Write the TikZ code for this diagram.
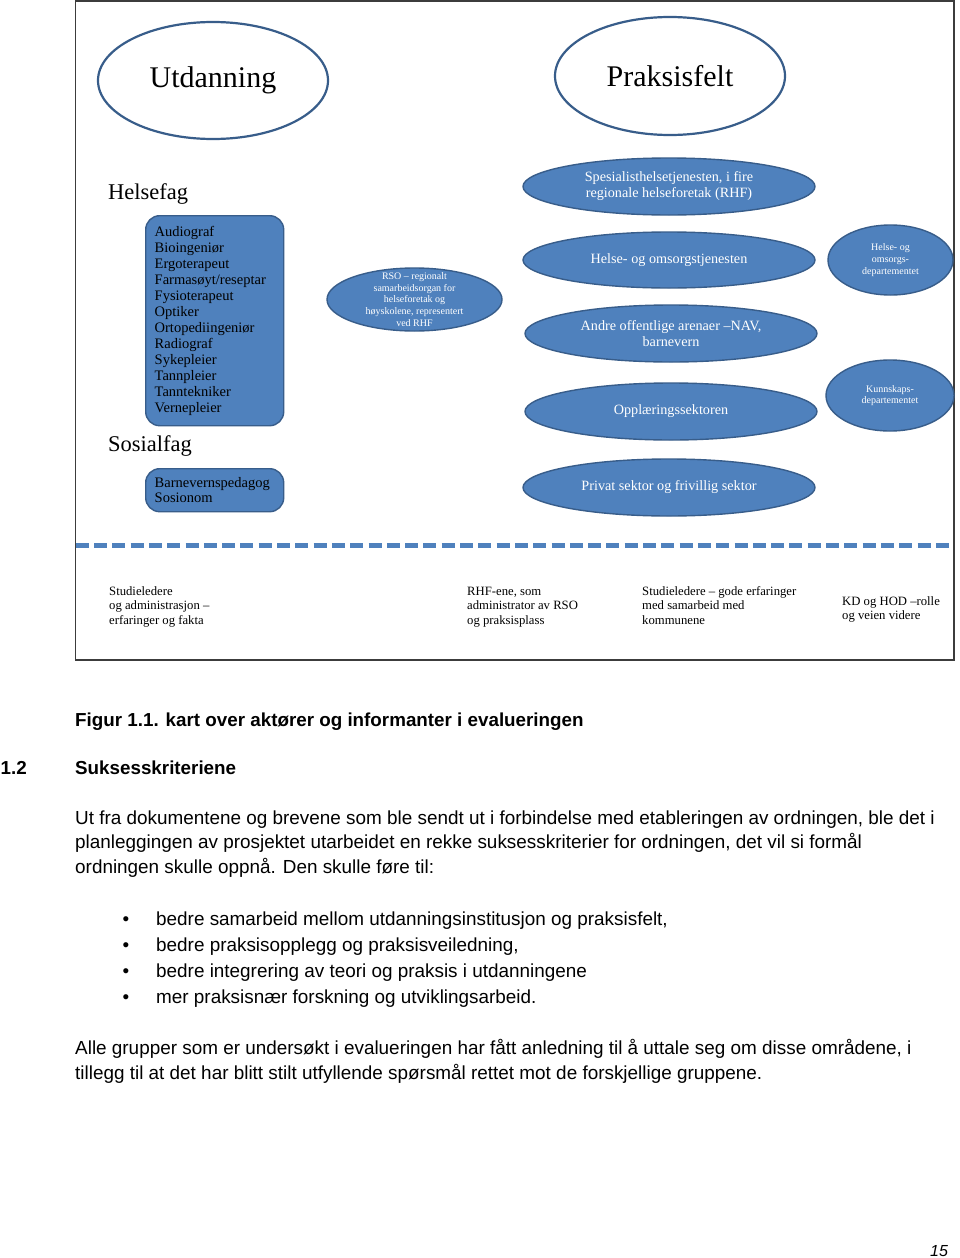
\documentclass[tikz,border=0pt]{standalone}
\usepackage{xcolor}
\usepackage{fontspec}
\setmainfont{Liberation Serif}
\newfontfamily\arialfont{Liberation Sans}
\usepackage{tikz}
\usetikzlibrary{shapes.geometric,positioning}

\definecolor{officeblue}{HTML}{4F81BD}
\definecolor{officeline}{HTML}{385D8A}
\definecolor{framegray}{HTML}{3C3C3C}
\newcommand{\fontpx}[2]{\fontsize{#1}{#2}\selectfont}

\begin{document}
\begin{tikzpicture}[x=1pt, y=-1pt,
    ring/.style={ellipse, draw=officeline, line width=2.2pt, inner sep=0pt},
    blob/.style={ellipse, draw=officeline, line width=1.4pt, fill=officeblue, text=white, align=center, inner sep=0pt},
    plate/.style={rectangle, rounded corners=14pt, draw=officeline, line width=1.4pt, fill=officeblue, align=left, anchor=north west, inner xsep=9pt, inner ysep=0pt},
    tag/.style={anchor=base west, inner sep=0pt, align=left},
    bodyline/.style={anchor=base west, inner sep=0pt, font=\arialfont\fontpx{18.9}{24}}]
    \fill[white] (0,0) rectangle (960,1258);
    \useasboundingbox (0,0) rectangle (960,1258);

    % figure frame
    \draw[framegray, line width=1.5pt] (75.7,1) rectangle (954,660);

    \node[ring, minimum width=230pt, minimum height=117pt, font=\fontpx{30}{36}] (utdanning) at (213,80.5) {Utdanning};
    \node[ring, minimum width=230pt, minimum height=118pt, font=\fontpx{30}{36}] (praksisfelt) at (670,76) {Praksisfelt};

    % utdanning side
    \node[tag, font=\fontpx{22.5}{27}] (helsefag) at (108,199) {Helsefag};
    \node[plate, minimum width=138pt, minimum height=210pt, text width=120pt, font=\fontpx{14.5}{16}] (helseliste) at (145,215)
        {Audiograf\\Bioingeniør\\Ergoterapeut\\Farmasøyt/reseptar\\Fysioterapeut\\Optiker\\Ortopediingeniør\\Radiograf\\Sykepleier\\Tannpleier\\Tanntekniker\\Vernepleier};
    \node[tag, font=\fontpx{22.5}{27}] (sosialfag) at (108,451) {Sosialfag};
    \node[plate, minimum width=138pt, minimum height=43pt, text width=120pt, font=\fontpx{14.5}{15.5}] (sosialliste) at (145,468)
        {Barnevernspedagog\\Sosionom};

    \node[blob, minimum width=175pt, minimum height=63pt] (rso) at (414.5,299.5) {};
    \node[text=white, align=center, inner sep=0pt, font=\fontpx{10}{11.7}] (rsotekst) at (rso)
        {RSO – regionalt\\samarbeidsorgan for\\helseforetak og\\høyskolene, representert\\ved RHF};

    % praksisfelt side
    \node[blob, minimum width=292pt, minimum height=57pt, font=\fontpx{14.2}{16}] (spes) at (669,186.5)
        {Spesialisthelsetjenesten, i fire\\regionale helseforetak (RHF)};
    \node[blob, minimum width=292pt, minimum height=56pt, font=\fontpx{14.2}{16}] (omsorg) at (669,260)
        {Helse- og omsorgstjenesten};
    \node[blob, minimum width=292pt, minimum height=57pt, font=\fontpx{14.2}{16}] (andre) at (671,333.5)
        {Andre offentlige arenaer –NAV,\\barnevern};
    \node[blob, minimum width=292pt, minimum height=57pt, font=\fontpx{14.2}{16}] (oppl) at (671,411.5)
        {Opplæringssektoren};
    \node[blob, minimum width=292pt, minimum height=57pt, font=\fontpx{14.2}{16}] (privat) at (669,487.5)
        {Privat sektor og frivillig sektor};
    \node[blob, minimum width=125pt, minimum height=70pt, font=\fontpx{10}{11.7}] (hod) at (890.5,260)
        {Helse- og\\omsorgs-\\departementet};
    \node[blob, minimum width=128pt, minimum height=71pt, font=\fontpx{10}{11.7}] (kd) at (890,395.5)
        {Kunnskaps-\\departementet};

    \draw[officeblue, line width=5pt, dash pattern=on 13pt off 5.3pt] (75.7,545) -- (954,545);

    % informantgrupper (base = last line)
    \node[tag, font=\fontpx{12.7}{14.5}] (studie) at (109,624) {Studieledere\\og administrasjon –\\erfaringer og fakta};
    \node[tag, font=\fontpx{12.7}{14.5}] (rhfene) at (467,624) {RHF-ene, som\\administrator av RSO\\og praksisplass};
    \node[tag, font=\fontpx{12.7}{14.5}] (kommune) at (642,624) {Studieledere – gode erfaringer\\med samarbeid med\\kommunene};
    \node[tag, font=\fontpx{12.7}{14.5}] (kdhod) at (842,619.5) {KD og HOD –rolle\\og veien videre};

    % text below the figure
    \node[bodyline, font=\arialfont\bfseries\fontpx{18.8}{24}] (figtekst) at (75,726) {Figur 1.1. kart over aktører og informanter i evalueringen};
    \node[bodyline, font=\arialfont\bfseries\fontpx{18.8}{24}] (seknr) at (0.5,774) {1.2};
    \node[bodyline, font=\arialfont\bfseries\fontpx{18.8}{24}] (sektittel) at (75,774) {Suksesskriteriene};
    \node[bodyline] (avsnitta) at (75,824) {Ut fra dokumentene og brevene som ble sendt ut i forbindelse med etableringen av ordningen, ble det i};
    \node[bodyline] (avsnittb) at (75,848.5) {planleggingen av prosjektet utarbeidet en rekke suksesskriterier for ordningen, det vil si formål};
    \node[bodyline] (avsnittc) at (75,873) {ordningen skulle oppnå. Den skulle føre til:};
    \foreach \punkt [count=\i] in {{bedre samarbeid mellom utdanningsinstitusjon og praksisfelt,},
        {bedre praksisopplegg og praksisveiledning,},
        {bedre integrering av teori og praksis i utdanningene},
        {mer praksisnær forskning og utviklingsarbeid.}}{
        \node[bodyline, anchor=base] (prikk\i) at (126,899+26*\i) {•};
        \node[bodyline] (punkt\i) at (156,899+26*\i) {\punkt};
    }
    \node[bodyline] (sluttb) at (75,1054) {Alle grupper som er undersøkt i evalueringen har fått anledning til å uttale seg om disse områdene, i};
    \node[bodyline] (sluttc) at (75,1079) {tillegg til at det har blitt stilt utfyllende spørsmål rettet mot de forskjellige gruppene.};
    \node[bodyline, font=\arialfont\itshape\fontpx{16}{20}] (side) at (930,1256) {15};
\end{tikzpicture}
\end{document}
